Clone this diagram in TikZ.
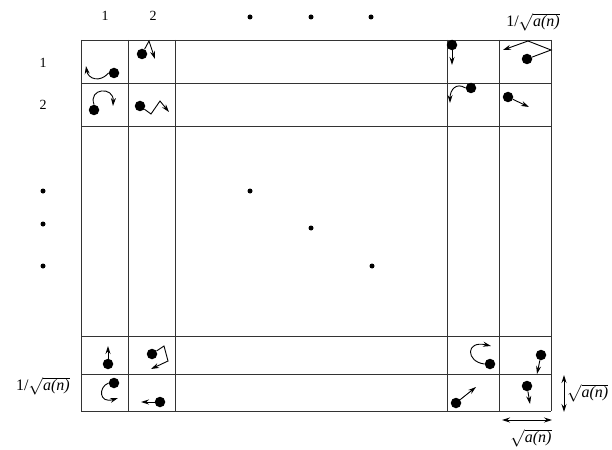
\documentclass[tikz,border=0pt]{standalone}
\usepackage{fontspec}
\setmainfont{Liberation Serif}
\usetikzlibrary{arrows.meta}
\begin{document}
\begin{tikzpicture}[x=1pt,y=-1pt,
  grid/.style={line width=0.8pt,black!80},
  ball/.style={circle,fill=black,inner sep=0pt,minimum size=10.5pt},
  sdot/.style={circle,fill=black,inner sep=0pt,minimum size=5pt},
  mv/.style={line width=0.9pt,-{Stealth[length=8pt,width=5pt]}},
  dbl/.style={line width=0.9pt,{Stealth[length=8pt,width=5pt]}-{Stealth[length=8pt,width=5pt]}},
  num/.style={font=\fontsize{14}{16}\selectfont},
  lab/.style={font=\fontsize{16}{18}\selectfont,inner sep=0pt}]
\useasboundingbox (0,0) rectangle (612,449);
\fill[white] (0,0) rectangle (612,449);
% grid
\foreach \x in {81,128,175,447,499,551} \draw[grid] (\x,40) -- (\x,411);
\foreach \y in {40,83,126,336,374,411} \draw[grid] (81,\y) -- (551,\y);
% labels
\node[num] (t1) at (105,16) {1};
\node[num] (t2) at (153,16) {2};
\node[num] (l1) at (43,63) {1};
\node[num] (l2) at (43,105) {2};
\node[sdot] (td1) at (250,17) {};
\node[sdot] (td2) at (311,17) {};
\node[sdot] (td3) at (371,17) {};
\node[sdot] (ld1) at (43,191) {};
\node[sdot] (ld2) at (43,224) {};
\node[sdot] (ld3) at (43,266) {};
\node[sdot] (md1) at (250,191) {};
\node[sdot] (md2) at (311,228) {};
\node[sdot] (md3) at (372,266) {};
\node[lab] (tl) at (533,22) {1/$\sqrt{\hbox{\itshape a(n)}}$};
\node[lab] (bl) at (43,386) {1/$\sqrt{\hbox{\itshape a(n)}}$};
% cell (1,1)
\node[ball] (b11) at (114,73) {};
\coordinate (e11) at (86,66);
\draw[mv] (b11.west) .. controls (100,83) and (88,79) .. (e11);
% cell (1,2)
\node[ball] (b12) at (142,54) {};
\coordinate (p12) at (149,41);
\coordinate (e12) at (155,59);
\draw[mv] (b12) -- (p12) -- (e12);
% cell (2,1)
\node[ball] (b21) at (94,110) {};
\coordinate (e21) at (113,106);
\draw[mv] (b21.north) .. controls (88,88) and (114,86) .. (e21);
% cell (2,2)
\node[ball] (b22) at (140,106) {};
\coordinate (p22a) at (151,114);
\coordinate (p22b) at (160,101);
\coordinate (e22) at (169,112);
\draw[mv] (b22) -- (p22a) -- (p22b) -- (e22);
% cell (1,n-1)
\node[ball] (b1m) at (452,45) {};
\coordinate (e1m) at (452,65);
\draw[mv] (b1m) -- (e1m);
% cell (1,n)
\node[ball] (b1n) at (527,59) {};
\coordinate (p1na) at (551,50);
\coordinate (p1nb) at (528,41);
\coordinate (e1n) at (503,50);
\draw[mv] (b1n) -- (p1na) -- (p1nb) -- (e1n);
% cell (2,n-1)
\node[ball] (b2m) at (471,88) {};
\coordinate (e2m) at (450,103);
\draw[mv] (b2m.west) .. controls (456,82) and (450,90) .. (e2m);
% cell (2,n)
\node[ball] (b2n) at (508,97) {};
\coordinate (e2n) at (529,107);
\draw[mv] (b2n) -- (e2n);
% cell (n-1,1)
\node[ball] (bm1) at (108,364) {};
\coordinate (em1) at (108,346);
\draw[mv] (bm1) -- (em1);
% cell (n-1,2)
\node[ball] (bm2) at (152,354) {};
\coordinate (pm2a) at (164,346);
\coordinate (pm2b) at (168,361);
\coordinate (em2) at (151,369);
\draw[mv] (bm2) -- (pm2a) -- (pm2b) -- (em2);
% cell (n,1)
\node[ball] (bn1) at (114,383) {};
\coordinate (en1) at (118,398);
\draw[mv] (bn1.west) .. controls (98,387) and (99,404) .. (en1);
% cell (n,2)
\node[ball] (bn2) at (160,402) {};
\coordinate (en2) at (141,402);
\draw[mv] (bn2) -- (en2);
% cell (n-1,n-1)
\node[ball] (bmm) at (490,364) {};
\coordinate (emm) at (491,346);
\draw[mv] (bmm.west) .. controls (466,362) and (465,340) .. (emm);
% cell (n-1,n)
\node[ball] (bmn) at (541,355) {};
\coordinate (emn) at (537,374);
\draw[mv] (bmn) -- (emn);
% cell (n,n-1)
\node[ball] (bnm) at (456,403) {};
\coordinate (enm) at (476,387);
\draw[mv] (bnm) -- (enm);
% cell (n,n)
\node[ball] (bnn) at (527,386) {};
\coordinate (enn) at (530,404);
\draw[mv] (bnn) -- (enn);
% scale arrows
\coordinate (va) at (564,375);
\coordinate (vb) at (564,412);
\draw[dbl] (va) -- (vb);
\node[lab,anchor=west] (vl) at (567,393) {$\sqrt{\hbox{\itshape a(n)}}$};
\coordinate (ha) at (502,420);
\coordinate (hb) at (552,420);
\draw[dbl] (ha) -- (hb);
\node[lab] (hl) at (531,438) {$\sqrt{\hbox{\itshape a(n)}}$};
\end{tikzpicture}
\end{document}
